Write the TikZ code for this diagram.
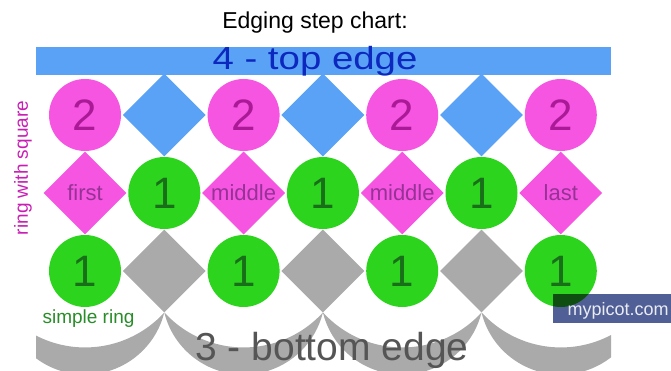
\documentclass[tikz,border=0pt]{standalone}
\usepackage{fontspec}
\setmainfont{Liberation Sans}
\usetikzlibrary{shapes.geometric}
\definecolor{edgeblue}{RGB}{90,162,245}
\definecolor{edgebluetext}{RGB}{12,40,190}
\definecolor{ringpink}{RGB}{245,85,225}
\definecolor{ringpinktext}{RGB}{170,25,150}
\definecolor{ringgreen}{RGB}{45,212,30}
\definecolor{ringgreentext}{RGB}{25,110,25}
\definecolor{edgegray}{RGB}{170,170,170}
\definecolor{edgegraytext}{RGB}{85,85,85}
\definecolor{labelpurple}{RGB}{150,50,150}
\definecolor{sidemagenta}{RGB}{200,30,180}
\definecolor{sidegreen}{RGB}{40,140,40}
\definecolor{markslate}{RGB}{80,95,150}
\begin{document}
\begin{tikzpicture}[x=1pt,y=-1pt,
  ring/.style={circle,inner sep=0pt,minimum size=72pt,font=\fontsize{44}{44}\selectfont},
  sq/.style={diamond,inner sep=0pt,minimum size=83pt,font=\fontsize{22}{24}\selectfont},
  big/.style={font=\fontsize{#1}{#1}\selectfont,anchor=base}]
\useasboundingbox (0,0) rectangle (671,371);
\node[big=23] (title) at (315,29) {Edging step chart:};
\node[fill=edgeblue,inner sep=0pt,minimum width=575pt,minimum height=28pt,anchor=north west]
  (bar) at (36,47) {};
\begin{scope}
\clip (36,0) rectangle (611,371);
\foreach \xx in {5.7,164.3,322.9,481.5}
  \fill[edgegray] (\xx,312.5) arc[start angle=166.1,end angle=13.9,radius=81.7]
    arc[start angle=42.4,end angle=137.6,radius=107.3] -- cycle;
\end{scope}
\foreach \k in {0,...,3}
{
  \pgfmathsetmacro{\xx}{85+158.6*\k}
  \node[ring,fill=ringpink,text=ringpinktext] (p\k) at (\xx,115) {2};
  \node[ring,fill=ringgreen,text=ringgreentext] (g\k) at (\xx,271) {1};
}
\foreach \k/\t in {0/first,1/middle,2/middle,3/last}
{
  \pgfmathsetmacro{\xx}{85+158.6*\k}
  \node[sq,fill=ringpink,text=labelpurple] (s\k) at (\xx,193) {\t};
}
\foreach \k in {1,2,3}
{
  \pgfmathsetmacro{\xx}{5.7+158.6*\k}
  \node[sq,fill=edgeblue] (b\k) at (\xx,115) {};
  \node[ring,fill=ringgreen,text=ringgreentext] (m\k) at (\xx,193) {1};
  \node[sq,fill=edgegray] (e\k) at (\xx,271) {};
}
\node[big=32,text=edgebluetext,xscale=1.2] (toptext) at (315,70) {4 - top edge};
\node[big=39,text=edgegraytext] (bottomtext) at (332,360) {3 - bottom edge};
\node[font=\fontsize{19}{19}\selectfont,text=sidemagenta,rotate=90] (side) at (23,168)
  {ring with square};
\node[big=19,text=sidegreen] (simple) at (88.5,323) {simple ring};
\begin{scope}[blend mode=multiply]
\node[fill=markslate,inner sep=0pt,minimum width=118pt,minimum height=29pt,anchor=north west]
  (mark) at (553,294) {};
\end{scope}
\node[big=18,text=white!88!markslate,anchor=base west] (marktext) at (564,315) {mypicot.com};
\end{tikzpicture}
\end{document}
